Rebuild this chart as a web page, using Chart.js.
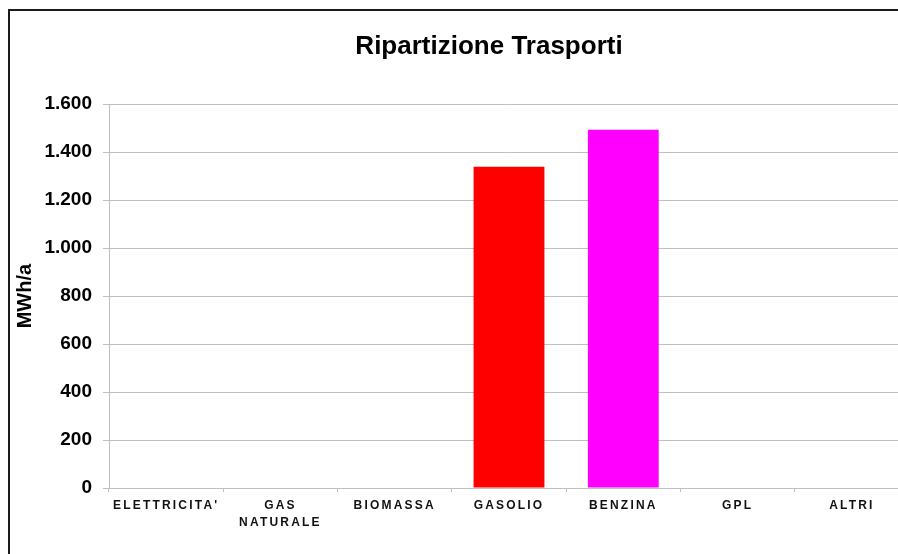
<!DOCTYPE html>
<html>
<head>
<meta charset="utf-8">
<script src="https://cdn.jsdelivr.net/npm/chart.js@4.4.0/dist/chart.umd.min.js"></script>
<style>
  html, body { margin: 0; padding: 0; background: #fff; overflow: hidden; width: 898px; height: 554px; }
  #wrap { position: absolute; left: 0; top: 0; }
  #frame {
    position: absolute; left: 8px; top: 9px; width: 1000px; height: 700px;
    border-top: 2px solid #1a1a1a; border-left: 2px solid #1a1a1a;
    pointer-events: none;
  }
</style>
</head>
<body>
<div id="wrap"><canvas id="chart" width="978" height="554"></canvas></div>
<div id="frame"></div>
<script>
// Data
const categories = ["ELETTRICITA'", ['GAS', 'NATURALE'], 'BIOMASSA', 'GASOLIO', 'BENZINA', 'GPL', 'ALTRI'];
const values = [0, 0, 0, 1339, 1493, 0, 0];
const yTicks = [0, 200, 400, 600, 800, 1000, 1200, 1400, 1600];

// Styles
const barColors = ['#ff0000', '#ff0000', '#ff0000', '#ff0000', '#ff00ff', '#ff0000', '#ff0000'];
const gridColor = '#c0c0c0';
const fontFamily = "'Liberation Sans', Arial, sans-serif";

function fmtThousands(v) {
    return String(v).replace(/\B(?=(\d{3})+(?!\d))/g, '.');
}

// widen the x labels like the original (letter spaced),
// and center the title on the whole frame, not just the plot
const tweaks = {
    id: 'tweaks',
    afterLayout(chart) {
        chart.titleBlock.left = 0;
        chart.titleBlock.right = chart.width;
    },
    beforeDraw(chart) {
        const s = chart.scales.x;
        if (s._spaced) return;
        const orig = s.drawLabels.bind(s);
        s.drawLabels = (area) => {
            chart.ctx.save();
            chart.ctx.letterSpacing = '2.2px';
            orig(area);
            chart.ctx.restore();
        };
        s._spaced = true;
    }
};

new Chart(document.getElementById('chart'), {
    type: 'bar',
    data: {
        labels: categories,
        datasets: [{
            data: values,
            backgroundColor: barColors,
            borderWidth: 0,
            categoryPercentage: 1,
            barPercentage: 0.62
        }]
    },
    options: {
        responsive: false,
        animation: false,
        events: [],
        layout: { padding: { left: 0, right: 69, top: 0, bottom: 0 } },
        plugins: {
            legend: { display: false },
            tooltip: { enabled: false },
            title: {
                display: true,
                text: 'Ripartizione Trasporti',
                color: '#000',
                font: { family: fontFamily, size: 26, weight: 'bold', lineHeight: 1.2 },
                padding: { top: 31, bottom: 42 }
            }
        },
        scales: {
            x: {
                afterFit(scale) { scale.height = 66; },
                grid: {
                    offset: true,
                    drawOnChartArea: false,
                    drawTicks: true,
                    tickLength: 4,
                    color: gridColor
                },
                border: { color: gridColor, width: 1 },
                ticks: {
                    color: '#111',
                    padding: 5,
                    maxRotation: 0,
                    autoSkip: false,
                    font: { family: fontFamily, size: 12, weight: 'bold', lineHeight: 1.4 }
                }
            },
            y: {
                min: 0,
                max: 1600,
                afterFit(scale) { scale.width = 109; },
                afterBuildTicks(scale) { scale.ticks = yTicks.map(v => ({ value: v })); },
                grid: {
                    color: gridColor,
                    lineWidth: 1,
                    tickLength: 6
                },
                border: { color: gridColor, width: 1 },
                ticks: {
                    color: '#000',
                    padding: 11,
                    font: { family: fontFamily, size: 19, weight: 'bold' },
                    callback: (v) => fmtThousands(v)
                },
                title: {
                    display: true,
                    text: 'MWh/a',
                    color: '#000',
                    font: { family: fontFamily, size: 20, weight: 'bold', lineHeight: 1.2 },
                    padding: { top: 13, bottom: 0 }
                }
            }
        }
    },
    plugins: [tweaks]
});
</script>
</body>
</html>
